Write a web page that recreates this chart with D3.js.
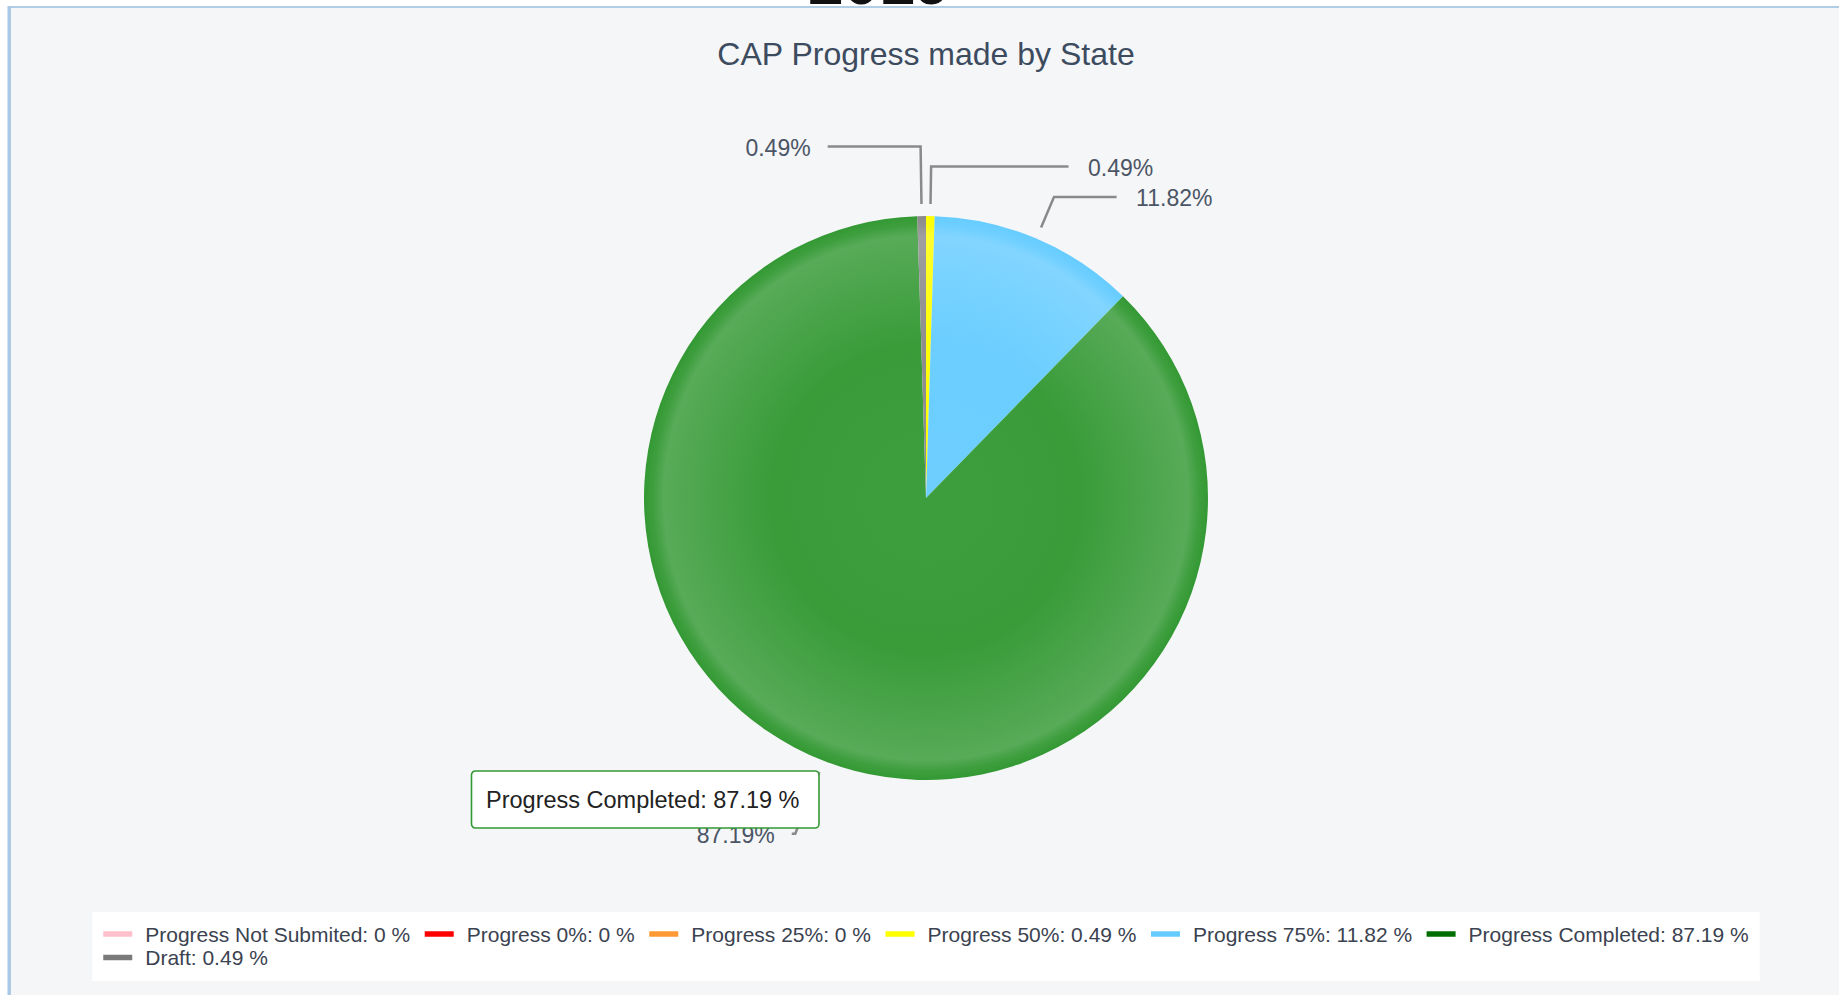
<!DOCTYPE html>
<html>
<head>
<meta charset="utf-8">
<script src="https://cdn.jsdelivr.net/npm/d3@7"></script>
<style>
  body { margin: 0; background: #fff; font-family: "Liberation Sans", Arial, sans-serif; }
  svg { display: block; }
</style>
</head>
<body>
<svg id="chart_svg"></svg>
<script>
// data
const categories = ["Progress Not Submited", "Progress 0%", "Progress 25%", "Progress 50%", "Progress 75%", "Progress Completed", "Draft"];
const percents = [0, 0, 0, 0.49, 11.82, 87.19, 0.49];
const legendColors = ["#ffc0cb", "#ff0000", "#ff9933", "#ffff00", "#66ccff", "#006e00", "#7a7a7a"];
const sliceColors = ["#ffc0cb", "#ff0000", "#ff9933", "#ffff00", "#66ccff", "#339933", "#8a8a8a"];
const chartTitle = "CAP Progress made by State";
const pageHeading = "2019";
const tooltipIndex = 5;

const width = 1839, height = 995;
const cx = 926, cy = 498, radius = 282;

const svg = d3.select("#chart_svg")
	.attr("width", width)
	.attr("height", height);

// heading of the page, mostly scrolled out of view
svg.append("text")
	.attr("x", 808)
	.attr("y", 3.5)
	.text(pageHeading)
	.style("font-size", "64px")
	.style("font-weight", "bold")
	.attr("fill", "#111");

// chart container
svg.append("rect")
	.attr("x", 8).attr("y", 6)
	.attr("width", width - 8).attr("height", height - 6)
	.attr("fill", "#f5f6f8");
svg.append("line")
	.attr("x1", 8).attr("x2", width).attr("y1", 7).attr("y2", 7)
	.attr("stroke", "#b2cde6").attr("stroke-width", 2);
svg.append("line")
	.attr("x1", 9.2).attr("x2", 9.2).attr("y1", 6).attr("y2", height)
	.attr("stroke", "#a9c8e6").attr("stroke-width", 3.5);

// Title
svg.append("text")
	.attr("x", cx)
	.attr("y", 65)
	.attr("text-anchor", "middle")
	.text(chartTitle)
	.style("font-size", "32px")
	.attr("fill", "#3d4b5f");

// gradients for the slices (centred on the pie group origin)
const defs = svg.append("defs");
const tint = (c, t) => d3.interpolateRgb(c, "#ffffff")(t);
sliceColors.forEach((c, i) => {
	const g = defs.append("radialGradient")
		.attr("id", "grad" + i)
		.attr("gradientUnits", "userSpaceOnUse")
		.attr("cx", 0).attr("cy", 0).attr("r", radius);
	[[0, 0.05], [0.55, 0.03], [0.86, 0.15], [0.93, 0.18], [0.97, 0.05], [1, 0]].forEach(s => {
		g.append("stop").attr("offset", s[0]).attr("stop-color", tint(c, s[1]));
	});
});

// Pie
const pie = d3.pie().sort(null).value(d => d)(percents);
const arc = d3.arc().innerRadius(0).outerRadius(radius);
const slices = pie.map((p, i) => Object.assign({}, p, { i: i })).filter(d => d.value > 0);

svg.append("g")
	.attr("transform", `translate(${cx},${cy})`)
	.selectAll("path")
	.data(slices)
	.join("path")
	.attr("d", arc)
	.attr("fill", d => `url(#grad${d.i})`);

// label layout
const polar = (rr, a) => [cx + rr * Math.sin(a), cy - rr * Math.cos(a)];
const signed = a => (a > Math.PI ? a - 2 * Math.PI : a);
slices.forEach(d => {
	d.mid = (d.startAngle + d.endAngle) / 2;
	d.left = Math.sin(d.mid) < 0;
	d.start = polar(radius + 12, d.mid);
	d.y = polar(radius + 45, d.mid)[1];
});
// labels near the top are stacked upwards, bottom ones drop a slot
const topLabels = slices.filter(d => d.y < cy).sort((a, b) => signed(b.mid) - signed(a.mid));
topLabels.forEach((d, k) => {
	if (!k) return;
	const prev = topLabels[k - 1];
	d.y = Math.min(d.y, prev.y - (prev.left === d.left ? 30.5 : 20));
});
slices.filter(d => d.y >= cy).forEach(d => { d.y += 31; });
slices.forEach(d => {
	const t = (cy - d.y) / Math.cos(d.mid);
	d.knee = [cx + t * Math.sin(d.mid), d.y];
	const dir = d.left ? -1 : 1;
	const dy = d.y - cy;
	d.endX = cx + dir * (Math.sqrt(Math.max(0, 375.5 * 375.5 - dy * dy)) - 34);
	d.textX = d.endX + dir * (d.left ? 17 : 19.5);
});

svg.append("g")
	.selectAll("path")
	.data(slices)
	.join("path")
	.attr("d", d => d3.line()([d.start, d.knee, [d.endX, d.y]]))
	.attr("fill", "none")
	.attr("stroke", "#8a8a8a")
	.attr("stroke-width", 2.5);

svg.append("g")
	.selectAll("text")
	.data(slices)
	.join("text")
	.attr("x", d => d.textX)
	.attr("y", d => d.y + 9)
	.attr("text-anchor", d => (d.left ? "end" : "start"))
	.text(d => d.value + "%")
	.style("font-size", "23px")
	.attr("fill", "#4b5565");

// Tooltip
const tip = svg.append("g").attr("transform", `translate(${cx - 454.5},${cy + 273})`);
const tipBox = tip.append("rect")
	.attr("height", 57)
	.attr("rx", 4)
	.attr("fill", "#fff")
	.attr("stroke", sliceColors[tooltipIndex])
	.attr("stroke-width", 1.6);
const tipText = tip.append("text")
	.attr("x", 14.5)
	.attr("y", 36.5)
	.text(`${categories[tooltipIndex]}: ${percents[tooltipIndex]} %`)
	.style("font-size", "23.5px")
	.attr("fill", "#222");
tipBox.attr("width", tipText.node().getComputedTextLength() + 34);

// Legend
const legend = svg.append("g");
const legendBg = legend.append("rect").attr("fill", "#fff");
const items = legend.selectAll("g")
	.data(categories)
	.join("g");
items.append("line")
	.attr("x1", 0).attr("x2", 29)
	.attr("y1", 0).attr("y2", 0)
	.attr("stroke", (d, i) => legendColors[i])
	.attr("stroke-width", 5.5);
items.append("text")
	.attr("x", 42)
	.attr("y", 7.7)
	.text((d, i) => `${d}: ${percents[i]} %`)
	.style("font-size", "21px")
	.attr("fill", "#3b4250");

const maxRow = 1720, gap = 14.5, rowH = 23.5;
let rows = [[]], rowW = [0];
items.each(function (d, i) {
	const w = 42 + d3.select(this).select("text").node().getComputedTextLength();
	let r = rows.length - 1;
	if (rows[r].length && rowW[r] + gap + w > maxRow) {
		rows.push([]); rowW.push(0); r++;
	}
	rowW[r] += (rows[r].length ? gap : 0) + w;
	rows[r].push({ node: this, w: w });
});
const boxW = d3.max(rowW) + 22;
const boxX = cx - boxW / 2, boxY = 912;
legendBg.attr("x", boxX).attr("y", boxY).attr("width", boxW).attr("height", 22 + rows.length * rowH);
rows.forEach((row, r) => {
	let x = boxX + 11;
	row.forEach(it => {
		d3.select(it.node).attr("transform", `translate(${x},${934 + r * rowH})`);
		x += it.w + gap;
	});
});
</script>
</body>
</html>
